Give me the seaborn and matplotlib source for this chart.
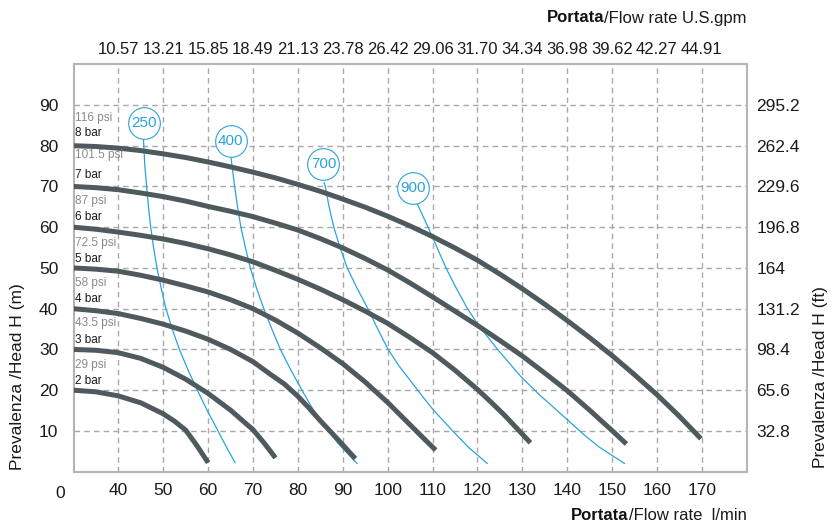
import matplotlib
matplotlib.use("Agg")
import matplotlib.pyplot as plt
import seaborn as sns
import numpy as np
import pandas as pd

# pressure curves (flow l/min, head m)
flow_2bar = [30, 35, 40, 45, 50, 52.5, 55, 57.5, 60]
head_2bar = [20, 19.6, 18.6, 16.9, 14.2, 12.4, 10.2, 6.4, 2.2]
flow_3bar = [30, 35, 40, 45, 50, 55, 60, 65, 70, 72.5, 75]
head_3bar = [30, 29.8, 29.2, 27.8, 25.6, 22.7, 19.2, 15.1, 10.3, 7.0, 3.4]
flow_4bar = [30, 35, 40, 45, 50, 55, 60, 65, 70, 74, 77, 80, 82.5, 85, 89, 92.8]
head_4bar = [40, 39.5, 38.8, 37.6, 36.2, 34.5, 32.5, 30.0, 27.0, 23.8, 21.5, 18.5, 15.6, 12.5, 7.8, 3.2]
flow_5bar = [30, 35, 40, 45, 50, 55, 60, 65, 70, 75, 80, 85, 90, 95, 100, 105, 108, 110.7]
head_5bar = [50, 49.7, 49.2, 48.2, 47.0, 45.6, 44.1, 42.2, 40.0, 37.2, 34.0, 30.4, 26.5, 22.0, 17.0, 11.5, 8.2, 5.3]
flow_6bar = [30, 35, 40, 45, 50, 55, 60, 65, 70, 75, 80, 85, 90, 95, 100, 105, 110, 115, 120, 123, 126, 129, 131.8]
head_6bar = [60, 59.5, 58.8, 58.0, 57.1, 56.0, 54.7, 53.2, 51.5, 49.4, 47.2, 44.8, 42.2, 39.4, 36.4,
             32.9, 29.2, 24.9, 20.2, 17.1, 13.9, 10.4, 7.1]
flow_7bar = [30, 35, 40, 45, 50, 55, 60, 65, 70, 75, 80, 85, 90, 95, 100, 105, 110, 115, 120, 125,
             130, 135, 140, 145, 150, 153.2]
head_7bar = [70, 69.7, 69.2, 68.4, 67.5, 66.4, 65.1, 63.9, 62.6, 61.0, 59.3, 57.2, 54.9, 52.3, 49.5,
             46.3, 42.9, 39.4, 35.9, 32.2, 28.4, 24.2, 19.9, 15.1, 10.1, 6.8]
flow_8bar = [30, 35, 40, 45, 50, 55, 60, 65, 70, 75, 80, 85, 90, 95, 100, 105, 110, 115, 120, 125,
             130, 135, 140, 145, 150, 155, 160, 165, 169.8]
head_8bar = [80, 79.8, 79.4, 78.8, 78.0, 77.1, 76.0, 74.8, 73.5, 72.1, 70.5, 68.8, 66.9, 64.9, 62.7,
             60.3, 57.7, 54.9, 51.9, 48.5, 44.9, 41.1, 37.1, 32.9, 28.5, 23.8, 18.9, 13.6, 8.1]

bar_labels = ["2 bar", "3 bar", "4 bar", "5 bar", "6 bar", "7 bar", "8 bar"]
psi_labels = ["29 psi", "43.5 psi", "58 psi", "72.5 psi", "87 psi", "101.5 psi", "116 psi"]
bar_label_y = [22.2, 32.2, 42.3, 52.3, 62.4, 72.7, 83.0]
psi_label_y = [26.3, 36.4, 46.2, 56.2, 66.5, 77.8, 86.9]

# air consumption lines (flow l/min, head m)
air_labels = ["250", "400", "700", "900"]
air_center_flow = [45.6, 65.0, 85.7, 105.7]
air_center_head = [85.6, 81.1, 75.4, 69.6]
flow_250 = [45.6, 45.9, 46.3, 46.7, 47.2, 47.85, 48.6, 49.55, 50.6, 52.0, 53.6, 55.5, 57.6, 59.8, 62.2, 64.1, 66.0]
head_250 = [81.4, 75, 70, 65, 60, 55, 50, 45, 40, 35, 30, 25, 20, 15, 10, 6, 2.2]
flow_400 = [65.1, 65.9, 66.55, 67.3, 68.3, 69.4, 70.8, 72.4, 74.2, 76.1, 78.4, 80.9, 83.0, 85.0, 88.9, 93.2]
head_400 = [77, 70, 65, 60, 55, 50, 45, 40, 35, 30, 25, 20, 16, 12.6, 7, 2.0]
flow_700 = [85.8, 86.1, 86.95, 88.0, 89.4, 91.0, 93.2, 95.6, 97.8, 100.1, 102.5, 105.3, 108.1, 110.3, 114.5, 118.0, 122.2]
head_700 = [71, 70, 65, 60, 55, 50, 45, 40, 35, 30, 26, 22, 18, 15, 10, 6, 2.0]
flow_900 = [106.6, 109.0, 111.0, 113.0, 115.3, 117.8, 120.2, 124.5, 129.8, 134.0, 140.2, 143.8, 147.2, 152.8]
head_900 = [65.7, 60, 55, 50, 45, 40, 36, 30, 23.2, 18.7, 12.6, 9.0, 6.0, 2.0]

flow_ticks = [40, 50, 60, 70, 80, 90, 100, 110, 120, 130, 140, 150, 160, 170]
gpm_labels = ["10.57", "13.21", "15.85", "18.49", "21.13", "23.78", "26.42",
              "29.06", "31.70", "34.34", "36.98", "39.62", "42.27", "44.91"]
head_ticks = [10, 20, 30, 40, 50, 60, 70, 80, 90]
ft_labels = ["32.8", "65.6", "98.4", "131.2", "164", "196.8", "229.6", "262.4", "295.2"]

GRAY = "#4f5a5f"
BLUE = "#2aa3dc"

sns.set_theme(style="white")
plt.rcParams['font.family'] = ['Liberation Sans', 'DejaVu Sans']

fig = plt.figure(figsize=(8.32, 5.26), dpi=100)
W, H = 832, 526
ax = fig.add_axes([73.5 / W, 1 - 471.7 / H, (746.7 - 73.5) / W, (471.7 - 64.2) / H])

ax.set_xlim(30, 180)
ax.set_ylim(0, 100)
ax.grid(True, linestyle=(0, (4, 3)), color="#a8a8a8", lw=1.0)
ax.set_axisbelow(True)
for sp in ax.spines.values():
    sp.set_color("#b4b4b4")
    sp.set_linewidth(1.5)

air_curves = [(flow_250, head_250), (flow_400, head_400), (flow_700, head_700), (flow_900, head_900)]
for fx, hy in air_curves:
    sns.lineplot(x=fx, y=hy, ax=ax, color=BLUE, lw=0.9, sort=False, estimator=None, zorder=3)

bar_curves = [(flow_2bar, head_2bar), (flow_3bar, head_3bar), (flow_4bar, head_4bar),
              (flow_5bar, head_5bar), (flow_6bar, head_6bar), (flow_7bar, head_7bar),
              (flow_8bar, head_8bar)]
for fx, hy in bar_curves:
    sns.lineplot(x=fx, y=hy, ax=ax, color=GRAY, lw=3.6, sort=False, estimator=None,
                 zorder=4, solid_capstyle="butt", solid_joinstyle="round")

for lab, py in zip(bar_labels, bar_label_y):
    ax.text(30.4, py, lab, fontsize=8.5, color="#1a1a1a", ha="left", va="center", zorder=6)
for lab, py in zip(psi_labels, psi_label_y):
    ax.text(30.4, py, lab, fontsize=8.5, color="#8a8a8a", ha="left", va="center", zorder=6)

circles = pd.DataFrame({"flow": air_center_flow, "head": air_center_head})
sns.scatterplot(data=circles, x="flow", y="head", ax=ax, s=520, color="white",
                edgecolor=BLUE, linewidth=0.8, zorder=7)
for lab, cx, cy in zip(air_labels, air_center_flow, air_center_head):
    ax.text(cx, cy, lab, fontsize=11, color=BLUE, ha="center", va="center", zorder=8)

ax.set_xticks(flow_ticks)
ax.set_xticklabels([str(v) for v in flow_ticks])
ax.set_yticks(head_ticks)
ax.set_yticklabels([str(v) for v in head_ticks])
ax.tick_params(axis="x", length=0, pad=8, labelsize=12.5, colors="#1a1a1a")
ax.tick_params(axis="y", length=0, pad=11, labelsize=12.5, colors="#1a1a1a")
ax.set_xlabel("")
ax.set_ylabel("")

axt = ax.twiny()
axt.set_xlim(30, 180)
axt.set_xticks(flow_ticks)
axt.set_xticklabels(gpm_labels)
axt.tick_params(axis="x", length=0, pad=5.5, labelsize=12, colors="#1a1a1a")
axt.grid(False)
for sp in axt.spines.values():
    sp.set_visible(False)

axr = ax.twinx()
axr.set_ylim(0, 100)
axr.set_yticks(head_ticks)
axr.set_yticklabels(ft_labels)
axr.tick_params(axis="y", length=0, pad=7, labelsize=12.5, colors="#1a1a1a")
axr.grid(False)
for sp in axr.spines.values():
    sp.set_visible(False)

fig.text(60 / W, 1 - 493 / H, "0", fontsize=12.5, ha="center", va="center", color="#1a1a1a")

fig.text(18 / W, 1 - 470 / H, "Prevalenza /Head H (m)", rotation=90, fontsize=12.5,
         ha="center", va="bottom", color="#1a1a1a")
fig.text(820 / W, 1 - 468 / H, "Prevalenza /Head H (ft)", rotation=90, fontsize=12.5,
         ha="center", va="bottom", color="#1a1a1a")

renderer = fig.canvas.get_renderer()


def two_part(y, rest):
    t = fig.text(746.5 / W, y, rest, fontsize=12, ha="right", va="center", color="#1a1a1a")
    bb = t.get_window_extent(renderer=renderer)
    fig.text(bb.x0 / W, y, "Portata", fontsize=12, ha="right", va="center",
             color="#111111", fontweight="bold")


two_part(1 - 18 / H, "/Flow rate U.S.gpm")
two_part(1 - 516 / H, "/Flow rate  l/min")

fig.savefig("out.png", dpi=100)
